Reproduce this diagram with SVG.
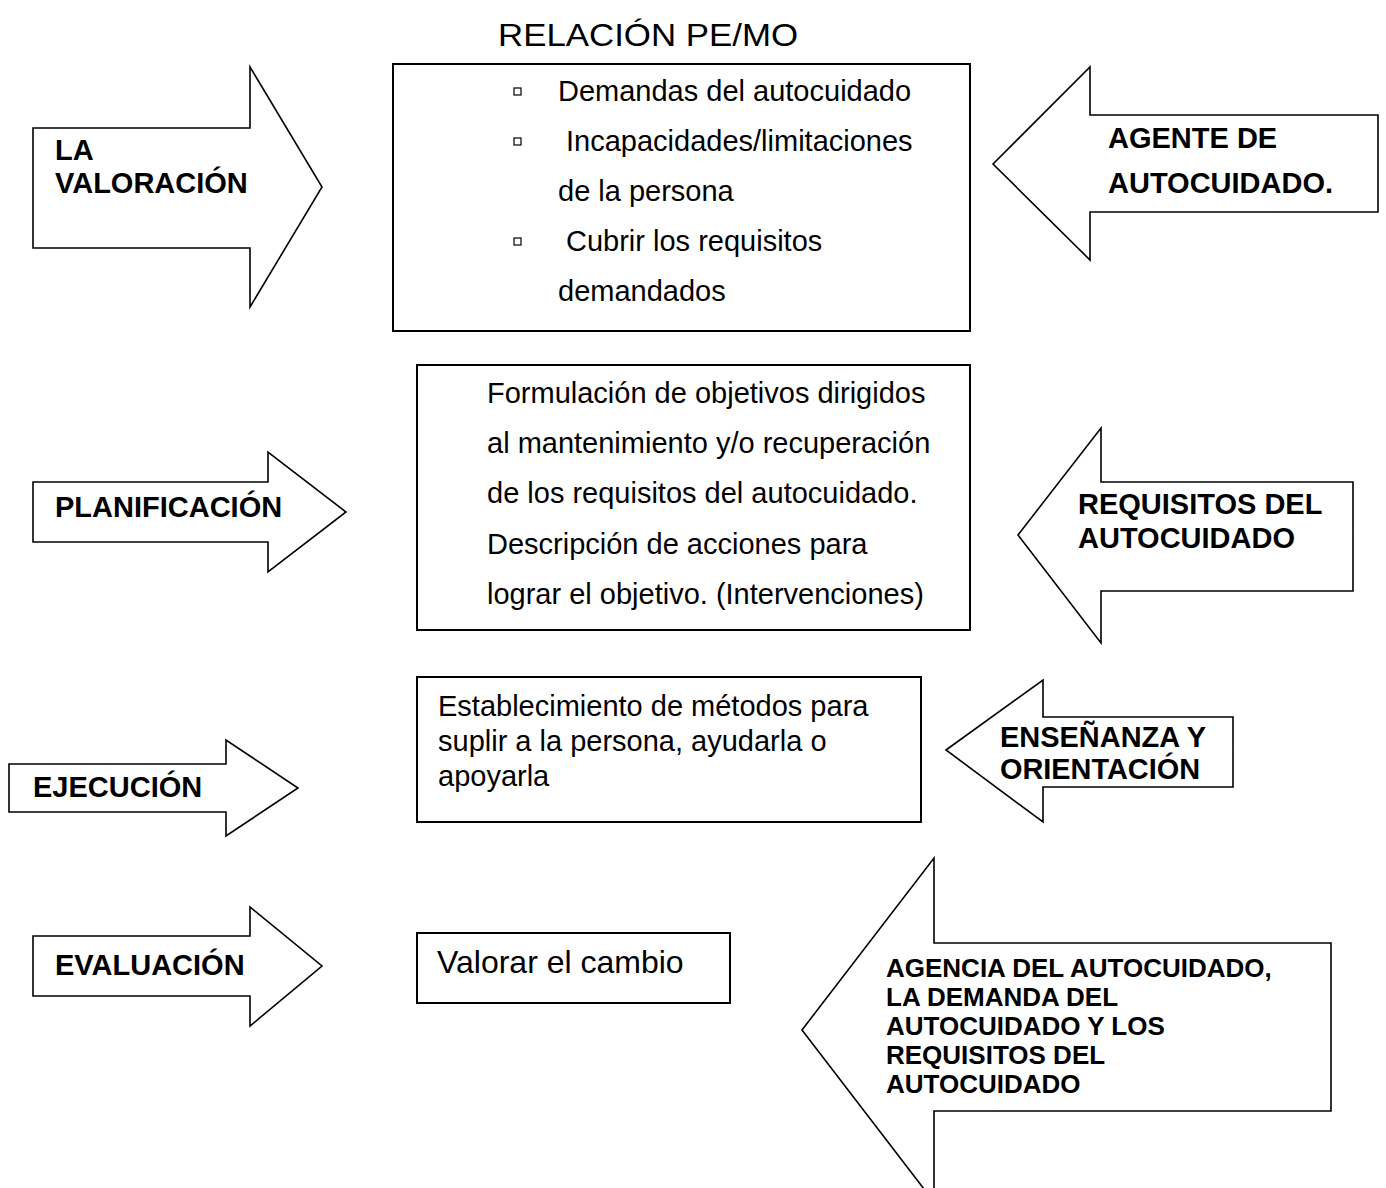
<svg xmlns="http://www.w3.org/2000/svg" width="1386" height="1188" viewBox="0 0 1386 1188">
  <defs>
    <style>
      .bg { fill: #ffffff; }
      .box { fill: #ffffff; stroke: #000000; stroke-width: 2; }
      .arrow { fill: #ffffff; stroke: #000000; stroke-width: 1.6; stroke-linejoin: miter; }
      .bullet { fill: #ffffff; stroke: #000000; stroke-width: 1.2; }
      .txt { font-family: "Liberation Sans", Arial, sans-serif; font-size: 29px; fill: #000000; }
      .lbl { font-family: "Liberation Sans", Arial, sans-serif; font-size: 29px; font-weight: bold; fill: #000000; }
      .lbl-sm { font-family: "Liberation Sans", Arial, sans-serif; font-size: 26px; font-weight: bold; fill: #000000; }
    </style>
  </defs>

  <rect class="bg" x="0" y="0" width="1386" height="1188"/>

  <g id="title">
    <text class="txt" x="498" y="46" style="font-size:32px" textLength="300" lengthAdjust="spacingAndGlyphs">RELACIÓN PE/MO</text>
  </g>

  <!-- left column: process stages -->
  <g id="valoracion">
    <path class="arrow" d="M33,128 H250 V67 L322,187 L250,307 V248 H33 Z"/>
    <text class="lbl" x="55" y="160">LA</text>
    <text class="lbl" x="55" y="193">VALORACIÓN</text>
  </g>

  <g id="planificacion">
    <path class="arrow" d="M33,482 H268 V452 L346,512 L268,572 V542 H33 Z"/>
    <text class="lbl" x="55" y="517">PLANIFICACIÓN</text>
  </g>

  <g id="ejecucion">
    <path class="arrow" d="M9,764 H226 V740 L298,788 L226,836 V812 H9 Z"/>
    <text class="lbl" x="33" y="797">EJECUCIÓN</text>
  </g>

  <g id="evaluacion">
    <path class="arrow" d="M33,936 H250 V907 L322,966 L250,1026 V996 H33 Z"/>
    <text class="lbl" x="55" y="975">EVALUACIÓN</text>
  </g>

  <!-- middle column: content boxes -->
  <g id="relacion-box">
    <rect class="box" x="393" y="64" width="577" height="267"/>
    <rect class="bullet" x="514" y="88" width="7" height="7"/>
    <rect class="bullet" x="514" y="138" width="7" height="7"/>
    <rect class="bullet" x="514" y="238" width="7" height="7"/>
    <text class="txt" x="558" y="101">Demandas del autocuidado</text>
    <text class="txt" x="566" y="151">Incapacidades/limitaciones</text>
    <text class="txt" x="558" y="201">de la persona</text>
    <text class="txt" x="566" y="251">Cubrir los requisitos</text>
    <text class="txt" x="558" y="301">demandados</text>
  </g>

  <g id="objetivos-box">
    <rect class="box" x="417" y="365" width="553" height="265"/>
    <text class="txt" x="487" y="403">Formulación de objetivos dirigidos</text>
    <text class="txt" x="487" y="453">al mantenimiento y/o recuperación</text>
    <text class="txt" x="487" y="503">de los requisitos del autocuidado.</text>
    <text class="txt" x="487" y="554">Descripción de acciones para</text>
    <text class="txt" x="487" y="604">lograr el objetivo. (Intervenciones)</text>
  </g>

  <g id="metodos-box">
    <rect class="box" x="417" y="677" width="504" height="145"/>
    <text class="txt" x="438" y="716">Establecimiento de métodos para</text>
    <text class="txt" x="438" y="751">suplir a la persona, ayudarla o</text>
    <text class="txt" x="438" y="786">apoyarla</text>
  </g>

  <g id="cambio-box">
    <rect class="box" x="417" y="933" width="313" height="70"/>
    <text class="txt" x="437" y="973" style="font-size:32px">Valorar el cambio</text>
  </g>

  <!-- right column: self-care concepts -->
  <g id="agente">
    <path class="arrow" d="M993,164 L1090,67 V115 H1378 V212 H1090 V260 Z"/>
    <text class="lbl" x="1108" y="148">AGENTE DE</text>
    <text class="lbl" x="1108" y="193">AUTOCUIDADO.</text>
  </g>

  <g id="requisitos">
    <path class="arrow" d="M1018,535 L1101,428 V482 H1353 V591 H1101 V643 Z"/>
    <text class="lbl" x="1078" y="514">REQUISITOS DEL</text>
    <text class="lbl" x="1078" y="548">AUTOCUIDADO</text>
  </g>

  <g id="ensenanza">
    <path class="arrow" d="M946,750 L1043,680 V717 H1233 V787 H1043 V822 Z"/>
    <text class="lbl" x="1000" y="747" textLength="206" lengthAdjust="spacingAndGlyphs">ENSEÑANZA Y</text>
    <text class="lbl" x="1000" y="779" textLength="200" lengthAdjust="spacingAndGlyphs">ORIENTACIÓN</text>
  </g>

  <g id="agencia">
    <path class="arrow" d="M802,1030 L934,858 V943 H1331 V1111 H934 V1202 Z"/>
    <text class="lbl-sm" x="886" y="977">AGENCIA DEL AUTOCUIDADO,</text>
    <text class="lbl-sm" x="886" y="1006">LA DEMANDA DEL</text>
    <text class="lbl-sm" x="886" y="1035">AUTOCUIDADO Y LOS</text>
    <text class="lbl-sm" x="886" y="1064">REQUISITOS DEL</text>
    <text class="lbl-sm" x="886" y="1093">AUTOCUIDADO</text>
  </g>

  <g id="connectors"></g>
</svg>
